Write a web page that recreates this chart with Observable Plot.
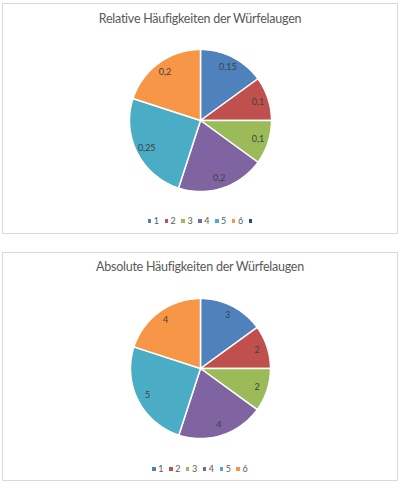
<!DOCTYPE html>
<html><head><meta charset="utf-8">
<script src="https://cdn.jsdelivr.net/npm/d3@7"></script>
<script src="https://cdn.jsdelivr.net/npm/@observablehq/plot@0.6"></script>
<style>
html,body{margin:0;padding:0;background:#fff;}
body{width:400px;height:489px;position:relative;overflow:hidden;font-family:Lato,"Open Sans",sans-serif;}
.box{position:absolute;left:2px;width:396px;box-sizing:border-box;border:1px solid #d9d9d9;background:#fff;}
.box svg{position:absolute;left:0;top:0;}
.title{position:absolute;left:0;right:0;text-align:center;color:#595959;font-size:12.5px;line-height:16px;letter-spacing:-0.25px;white-space:nowrap;}
.legend{position:absolute;left:0;right:0;display:flex;justify-content:center;align-items:center;font-size:9px;line-height:10px;color:#595959;}
.legend .item{display:flex;align-items:center;margin:0 2.8px;}
.legend .sw{width:3.5px;height:3.5px;display:inline-block;}
.legend .lab{margin-left:2.5px;}
</style>
</head><body>
<script>
// ---- data ----
const categories = ["1", "2", "3", "4", "5", "6"];
const relativeValues = [0.15, 0.1, 0.1, 0.2, 0.25, 0.2];
const absoluteValues = [3, 2, 2, 4, 5, 4];
const sliceColors = ["#4F81BD", "#C0504D", "#9BBB59", "#8064A2", "#4BACC6", "#F79646"];
const extraLegendColor = "#2C4D75";
const titles = ["Relative Häufigkeiten der Würfelaugen", "Absolute Häufigkeiten der Würfelaugen"];

function pieData(values) {
  const arcs = d3.pie().sort(null).value(d => d)(values);
  const poly = [], labels = [];
  arcs.forEach((p, i) => {
    const cat = categories[i];
    poly.push({cat, x: 0, y: 0});
    const span = p.endAngle - p.startAngle;
    const n = Math.max(2, Math.ceil(span / (Math.PI / 180)));
    for (let k = 0; k <= n; k++) {
      const a = p.startAngle + span * k / n;
      poly.push({cat, x: Math.sin(a), y: Math.cos(a)});
    }
    poly.push({cat, x: 0, y: 0});
    const m = (p.startAngle + p.endAngle) / 2;
    labels.push({cat, x: 0.85 * Math.sin(m), y: 0.85 * Math.cos(m), text: String(values[i]).replace(".", ",")});
  });
  return {poly, labels};
}

function makeChart(cfg) {
  const box = document.createElement("div");
  box.className = "box";
  box.style.top = cfg.top + "px";
  box.style.height = cfg.height + "px";
  document.body.appendChild(box);
  const w = 394, h = cfg.height - 2;
  const {poly, labels} = pieData(cfg.values);
  const r = cfg.r;
  const svg = Plot.plot({
    width: w, height: h,
    x: {domain: [-1, 1], range: [cfg.cx - r, cfg.cx + r], axis: null},
    y: {domain: [-1, 1], range: [cfg.cy + r, cfg.cy - r], axis: null},
    color: {domain: categories, range: sliceColors},
    style: {background: "transparent", overflow: "visible"},
    marks: [
      Plot.line(poly, {x: "x", y: "y", z: "cat", fill: "cat", stroke: "white", strokeWidth: 1.5, strokeLinejoin: "miter"}),
      Plot.text(labels, {x: "x", y: "y", text: "text", fill: "#404040", fontSize: 9, fontFamily: "Lato, 'Open Sans', sans-serif"})
    ]
  });
  box.appendChild(svg);
  const t = document.createElement("div");
  t.className = "title";
  t.style.top = cfg.titleTop + "px";
  t.textContent = cfg.title;
  box.appendChild(t);
  const lg = document.createElement("div");
  lg.className = "legend";
  lg.style.top = cfg.legendTop + "px";
  const items = categories.map((c, i) => ({label: c, color: sliceColors[i]}));
  if (cfg.extra) items.push({label: "", color: extraLegendColor});
  items.forEach(it => {
    const d = document.createElement("span");
    d.className = "item";
    const s = document.createElement("span");
    s.className = "sw";
    s.style.background = it.color;
    d.appendChild(s);
    if (it.label) {
      const l = document.createElement("span");
      l.className = "lab";
      l.textContent = it.label;
      d.appendChild(l);
    }
    lg.appendChild(d);
  });
  box.appendChild(lg);
}

makeChart({top: 3, height: 231, values: relativeValues, title: titles[0], cx: 197, cy: 116, r: 71, titleTop: 7, legendTop: 212, extra: true});
makeChart({top: 252, height: 229, values: absoluteValues, title: titles[1], cx: 197, cy: 115, r: 70, titleTop: 6, legendTop: 211, extra: false});
</script>
</body></html>
